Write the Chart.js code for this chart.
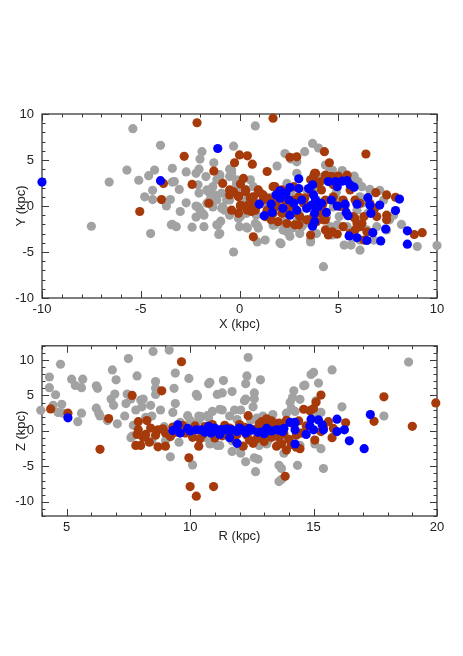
<!DOCTYPE html>
<html>
<head>
<meta charset="utf-8">
<script src="https://cdn.jsdelivr.net/npm/chart.js@4.4.1/dist/chart.umd.min.js"></script>
<style>
  html, body { margin: 0; padding: 0; background: #fff; }
  body { width: 463px; height: 656px; position: relative; overflow: hidden; }
  canvas { position: absolute; left: 0; }
  #top { top: 0; }
  #bottom { top: 330px; }
</style>
</head>
<body>
<canvas id="top" width="463" height="333"></canvas>
<canvas id="bottom" width="463" height="326"></canvas>
<script>
"use strict"

// tick labels
const xTicks = [-10, -5, 0, 5, 10];
const yTicks = [-10, -5, 0, 5, 10];
const rTicks = [5, 10, 15, 20];
const zTicks = [-10, -5, 0, 5, 10];

// ---- top panel: X, Y (kpc) ----
const topGray = [
  [-5.4,8.4],[0.8,8.7],[-4.0,6.6],[-1.9,5.9],[-5.7,3.9],[-6.6,2.6],[-5.1,2.8],[-4.6,3.3],[-4.3,3.9],[-3.4,4.1],
  [-2.7,3.7],[-2.0,5.1],[-1.3,4.7],[-0.3,6.5],[-0.4,3.9],[-4.4,1.7],[-4.8,1.0],[-4.4,0.7],[-3.5,0.7],[-3.7,0.0],
  [-3.0,-0.6],[-3.4,2.6],[-3.05,1.8],[-2.05,1.4],[-1.6,1.6],[-2.1,2.3],[-1.7,3.2],[-7.5,-2.2],[-4.5,-3.0],[-3.4,-2.0],
  [-3.2,-2.25],[-2.4,-2.3],[-1.8,-2.25],[-2.1,-0.1],[-2.2,-1.2],[-1.8,-1.0],[-1.1,-2.1],[-1.0,-3.0],[-0.3,-5.0],[-0.85,-0.1],
  [-0.5,0.65],[0.0,-2.25],[0.4,-2.4],[0.9,-2.1],[0.9,-3.9],[1.3,-3.7],[2.1,-4.1],[2.3,5.7],[1.9,4.35],[2.8,5.2],
  [3.3,5.9],[3.7,6.8],[4.0,6.3],[2.7,-2.4],[2.55,-3.3],[3.6,-3.9],[4.25,-6.6],[5.3,-4.25],[5.65,-4.25],[6.1,-4.8],
  [9.0,-4.4],[10.0,-4.3],[5.2,3.85],[5.8,3.2],[6.6,1.8],[5.05,-1.15],[5.45,-2.25],[6.95,-2.25],[7.45,-2.6],[4.6,3.9],
  [4.25,3.2],[3.9,0.65],[1.7,1.0],[0.7,2.1],[0.35,0.65],[-0.3,1.75],[-0.65,0.65],[-0.9,1.4],[-0.15,2.45],[-1.0,3.2],
  [-0.5,3.2],[-1.35,2.1],[-1.15,2.85],[-1.5,0.65],[-1.35,-0.1],[-1.65,0.3],[0.05,-1.15],[0.35,-0.8],[0.85,-1.0],[2.2,-1.7],
  [1.7,-2.1],[2.4,-2.8],[3.05,-3.0],[3.9,-3.0],[4.6,-2.25],[6.45,-2.6],[6.8,-3.7],[4.75,-0.1],[2.4,2.45],[2.9,3.55],
  [3.4,1.75],[4.75,2.85],[6.1,1.0],[5.95,-0.45],[7.3,0.65],[7.6,-1.5],[-2.2,3.55],[-2.05,4.0],[-1.0,3.4],[-0.5,4.0],
  [-0.4,3.55],[-3.3,2.65],[-2.7,0.35],[-2.2,0.0],[-1.85,-0.85],[-2.0,-0.45],[-1.65,1.75],[-1.5,1.4],[-1.25,1.2],[-1.15,0.65],
  [-0.9,-0.25],[-0.75,-0.45],[-3.45,-2.05],[-1.15,-2.05],[-0.95,-1.65],[-1.05,-3.1],[-0.15,2.85],[0.05,2.1],[0.35,1.75],[0.55,2.85],
  [0.7,1.0],[-0.5,-1.0],[-0.05,-1.35],[0.35,-2.3],[2.6,5.1],[2.9,4.8],[4.35,4.45],[4.7,3.9],[5.2,3.35],[5.8,3.25],
  [6.0,2.65],[6.2,2.1],[0.8,-1.9],[0.95,-2.4],[2.05,-4.0],[2.2,-2.6],[2.9,-1.7],[3.15,-2.25],[3.6,-3.7],[5.7,-3.35],
  [6.1,-3.7],[4.7,-3.15],[4.95,-2.05],[1.8,-2.05],[1.45,-1.15],[5.0,0.65],[5.35,-0.05],[6.2,0.3],[1.2,0.3],[2.0,0.5],
  [3.0,-0.8],[3.8,1.9],[4.4,-1.2],[1.5,-0.5],[2.6,1.5],[3.3,-1.9],[4.9,1.5],[6.5,-0.8],[7.1,1.7],[7.8,-1.0],[8.2,-2.0]
];
const topBrown = [
  [-2.15,9.05],[1.7,9.55],[-2.8,5.4],[0.0,5.55],[0.4,5.45],[-0.25,4.7],[0.65,4.55],[-1.3,3.8],[1.4,3.75],[2.55,5.3],
  [4.3,5.9],[4.55,4.7],[6.4,5.65],[-3.85,2.45],[-3.95,0.7],[-5.05,-0.6],[-2.4,2.35],[-1.55,0.3],[-0.85,2.45],[0.05,2.4],
  [0.2,3.0],[-0.5,1.2],[-0.3,1.55],[-0.05,1.0],[0.05,-0.05],[-0.05,-0.8],[-0.4,-0.45],[0.35,-0.05],[0.7,1.0],[0.3,1.75],
  [1.05,1.4],[1.2,0.65],[1.4,-0.45],[0.8,-0.45],[1.55,-1.15],[1.9,-0.05],[1.7,2.1],[2.2,1.4],[2.3,0.65],[2.4,-0.8],
  [2.55,-0.05],[2.8,-2.05],[3.05,-1.15],[3.4,-1.5],[3.6,-3.15],[0.7,-3.35],[3.75,3.2],[3.85,3.55],[4.1,2.65],[4.15,1.75],
  [4.35,0.65],[4.1,-0.8],[4.35,-1.5],[4.5,-3.15],[4.7,-2.8],[4.95,-3.05],[5.1,-0.05],[5.25,0.65],[4.75,1.0],[4.6,3.2],
  [4.75,2.3],[5.6,1.75],[5.75,-1.15],[5.95,-1.9],[6.1,-2.25],[6.3,-3.7],[6.45,-2.8],[6.3,-1.15],[6.6,0.3],[6.85,-0.25],
  [6.95,-1.15],[6.9,1.45],[7.45,1.2],[7.45,-1.0],[7.45,-1.5],[7.9,0.95],[8.85,-3.1],[9.25,-2.9],[5.25,-2.25],[5.6,-3.0],
  [2.75,0.65],[2.9,-0.8],[3.25,0.3],[1.7,-0.8],[2.15,-0.8],[3.75,-1.15],[3.9,-0.45],[3.65,1.4],[2.75,2.1],[-0.5,1.75],
  [-0.05,1.1],[0.3,1.55],[0.55,0.85],[0.4,-0.45],[0.6,-0.6],[0.05,0.1],[0.45,0.1],[0.85,-0.05],[2.9,5.35],[4.7,3.2],
  [4.35,3.35],[5.0,3.25],[5.45,3.35],[3.8,3.55],[3.6,2.85],[3.9,2.45],[0.95,1.75],[1.2,1.2],[1.45,0.85],[1.7,0.3],
  [1.8,2.1],[2.15,1.75],[0.8,0.3],[1.3,-1.15],[1.6,-1.5],[1.95,-1.7],[2.4,-1.9],[3.0,-2.05],[3.5,-1.5],[3.9,-1.7],
  [4.25,-1.5],[4.35,-2.6],[5.85,-2.6],[6.2,-1.9],[5.85,-1.35],[3.0,1.0],[3.3,0.85],[4.2,0.1],[4.7,0.65],[5.85,0.65],[6.1,0.3]
];
const topBlue = [
  [-10.0,2.6],[-4.0,2.75],[-1.1,6.25],[1.0,0.2],[1.25,-1.05],[1.6,0.2],[1.65,-0.7],[1.85,1.2],[2.05,1.65],[2.05,0.85],
  [2.35,1.4],[2.2,-0.25],[2.55,2.0],[2.5,0.65],[2.55,-1.0],[2.75,0.3],[2.9,-0.45],[3.0,2.95],[3.0,1.9],[3.15,0.65],
  [3.4,-0.25],[3.5,1.9],[3.7,2.3],[3.75,1.2],[3.85,0.65],[3.65,0.1],[3.8,-0.8],[3.8,-1.7],[3.7,-2.2],[4.0,-0.05],
  [4.15,0.3],[4.5,2.65],[4.85,2.65],[4.95,2.1],[4.65,0.65],[4.95,0.0],[5.2,2.7],[5.45,2.75],[5.6,2.3],[5.8,2.05],
  [5.35,0.2],[5.4,-0.7],[5.5,-1.05],[5.95,0.2],[5.55,-3.25],[5.95,-3.45],[6.45,-3.75],[6.5,0.9],[6.6,0.1],[6.65,-0.8],
  [6.75,-2.9],[7.1,0.1],[7.15,-3.8],[7.4,-2.5],[7.9,-0.5],[8.1,0.75],[8.5,-2.7],[8.5,-4.15],[4.4,-0.7]
];

// ---- bottom panel: R, Z (kpc) ----
const botGray = [
  [3.95,2.9],[4.3,7.6],[4.3,6.1],[4.55,5.1],[4.75,9.4],[4.45,3.6],[4.8,3.75],[4.65,2.6],[4.85,2.5],[5.2,7.3],
  [5.35,6.4],[5.6,6.1],[5.65,7.3],[5.45,1.3],[5.6,2.5],[6.2,6.35],[6.25,6.0],[6.2,3.2],[6.3,2.5],[6.35,2.1],
  [6.85,8.6],[7.0,7.2],[6.8,4.5],[6.9,3.6],[7.05,1.0],[6.65,1.45],[6.95,5.2],[7.5,10.2],[7.45,5.2],[7.4,3.85],
  [7.35,2.1],[7.6,4.5],[7.8,2.95],[7.85,7.75],[8.0,4.35],[8.05,3.4],[7.6,-0.95],[7.7,0.8],[8.1,4.5],[8.4,3.6],
  [8.45,2.1],[8.5,11.2],[8.6,6.95],[8.6,6.0],[8.6,5.15],[8.8,2.95],[8.95,0.6],[9.15,11.4],[9.2,-3.65],[9.35,6.0],
  [9.4,8.15],[9.4,3.85],[9.3,2.6],[9.9,2.15],[9.95,7.4],[10.1,-4.8],[10.25,5.15],[10.3,4.9],[10.35,2.1],[10.45,2.0],
  [10.7,2.15],[10.8,6.85],[10.8,-1.85],[11.1,5.15],[11.2,3.05],[11.35,7.1],[11.3,5.35],[11.6,2.1],[11.7,5.55],[11.8,2.95],
  [11.7,-2.9],[12.0,-2.25],[12.05,-3.15],[12.25,6.65],[12.25,4.5],[12.3,7.75],[12.35,10.35],[12.25,-4.35],[12.45,1.45],[12.55,3.4],
  [12.6,5.35],[12.65,-5.75],[12.85,7.2],[12.75,-4.0],[12.95,2.1],[13.15,-1.4],[13.35,2.3],[13.6,-4.85],[13.6,-7.15],[13.7,-5.3],
  [13.8,-3.15],[13.9,2.5],[14.05,4.05],[14.15,4.7],[14.2,5.65],[14.25,2.75],[14.35,-4.85],[14.6,6.35],[15.0,8.25],[15.2,6.75],
  [15.1,4.25],[15.05,2.6],[15.3,2.6],[15.4,-5.3],[15.75,8.6],[15.05,-1.85],[15.3,-2.5],[16.15,3.4],[17.85,2.1],[18.85,9.7],
  [8.45,-1.4],[9.0,-1.4],[9.55,-1.6],[10.65,-0.95],[11.2,-2.05],[11.7,-1.4],[12.8,-2.05],[13.1,-1.85],[13.75,-1.4],[14.45,-2.05],
  [11.1,-2.05],[10.35,1.45],[10.75,1.85],[10.75,6.65],[10.9,2.75],[11.3,2.95],[12.05,2.95],[12.6,4.55],[12.2,4.25],[14.1,3.15],
  [14.45,4.45],[14.65,6.45],[14.9,7.95],[12.6,-3.8],[12.95,-1.6],[13.7,-6.85],[7.65,-0.75],[8.2,1.9],[9.6,1.2],[10.0,1.5],
  [11.9,1.6],[12.7,1.8],[13.4,1.2],[13.6,-1.0]
];
const botBrown = [
  [4.35,3.1],[5.05,2.5],[6.35,-2.6],[6.7,1.75],[7.65,5.0],[7.9,1.3],[7.85,-0.5],[7.8,-2.05],[8.0,-2.05],[7.9,0.15],
  [8.2,-0.5],[8.25,1.45],[8.35,-1.6],[8.7,0.15],[8.7,-2.25],[8.85,5.65],[9.0,-2.15],[9.0,-0.3],[9.3,0.55],[9.65,9.75],
  [9.95,-3.8],[10.0,-7.85],[10.25,-9.2],[10.35,-2.15],[10.95,-7.85],[12.35,2.15],[12.15,-2.15],[12.55,-1.75],[13.5,-2.15],[13.7,-1.85],
  [13.9,-2.7],[13.85,-6.4],[14.45,-2.5],[14.6,3.05],[14.85,2.85],[15.0,3.15],[15.1,4.05],[15.3,5.05],[15.05,-1.3],[15.3,-0.1],
  [15.75,-0.95],[15.8,0.35],[16.3,1.15],[17.85,4.8],[17.45,1.35],[19.0,0.65],[19.95,3.95],
  [9.5,0.5],[9.8,-0.3],[10.2,0.7],[10.5,-0.5],[10.9,0.9],[11.3,-0.7],[11.6,0.4],[12.0,0.9],[12.3,-0.6],[12.6,0.2],
  [12.9,1.3],[13.1,1.7],[13.3,-0.9],[13.5,0.4],[13.9,1.5],[14.2,0.9],[14.5,-0.3],[8.6,-0.6],[9.2,-0.8],[10.1,-0.9],
  [10.8,0.1],[11.1,-0.2],[11.9,-0.5],[12.7,-1.1],[13.2,0.8],[13.8,-0.4],[14.0,-1.2],[14.4,1.4],[8.9,0.3],[9.4,-0.2],
  [10.6,0.6],[11.4,0.8],[12.2,0.5],[12.9,-0.8],[13.6,1.1],[14.3,-0.6],[8.4,0.4],[8.1,-0.9],[9.7,0.8],[10.4,-1.1],
  [11.0,-1.0],[11.8,-1.2],[12.4,-1.3],[13.0,-1.5],[12.8,1.0],[13.3,1.4],[13.6,-0.9],[14.1,-1.9],[14.3,-2.3],[14.7,0.7],
  [15.4,0.6],[15.6,1.3],[10.0,0.2],[11.5,-0.5]
];
const botBlue = [
  [5.05,1.85],[9.3,0.05],[9.5,0.85],[9.6,-0.3],[9.9,0.35],[10.0,0.0],[10.25,0.15],[10.45,0.15],[10.75,0.65],[10.85,-0.3],
  [11.05,0.15],[11.2,-0.5],[11.4,0.15],[11.6,-0.95],[11.7,0.15],[11.9,-0.1],[11.9,-1.75],[12.1,0.15],[12.25,-0.3],[12.4,0.35],
  [12.75,-0.2],[12.95,-0.1],[13.1,0.35],[13.3,0.0],[13.5,0.15],[13.75,-0.1],[13.8,0.35],[14.05,1.2],[14.25,1.2],[14.25,0.15],
  [14.25,-1.85],[14.7,-0.5],[14.85,0.7],[14.9,1.65],[15.0,0.15],[15.2,1.55],[15.35,0.85],[15.4,0.15],[15.95,1.65],[15.95,-0.1],
  [16.25,0.15],[16.45,-1.4],[17.05,-2.5],[17.3,2.3],[10.6,-0.2],[11.0,0.4],[11.25,0.2],[10.9,-0.1],[11.5,0.3],[12.0,0.4],
  [12.5,0.1],[13.0,-0.4],[13.6,0.1]
];

const gray = "#a2a2a2";
const brown = "#a63a0a";
const blue = "#0000ff";

// inward major/minor ticks on all four sides plus the box
const frameTicks = {
  id: "frameTicks",
  beforeDatasetsDraw(chart) {
    const ctx = chart.ctx;
    const a = chart.chartArea;
    const xs = chart.scales.x;
    const ys = chart.scales.y;
    ctx.save();
    ctx.strokeStyle = "#3a3a3a";
    ctx.lineWidth = 1;
    ctx.beginPath();
    for (let v = Math.ceil(xs.min); v <= xs.max; v++) {
      const len = v % 5 === 0 ? 7 : 3.5;
      const p = Math.round(xs.getPixelForValue(v)) + 0.5;
      ctx.moveTo(p, a.bottom); ctx.lineTo(p, a.bottom - len);
      ctx.moveTo(p, a.top); ctx.lineTo(p, a.top + len);
    }
    for (let v = Math.ceil(ys.min); v <= ys.max; v++) {
      const len = v % 5 === 0 ? 7 : 3.5;
      const p = Math.round(ys.getPixelForValue(v)) + 0.5;
      ctx.moveTo(a.left, p); ctx.lineTo(a.left + len, p);
      ctx.moveTo(a.right, p); ctx.lineTo(a.right - len, p);
    }
    ctx.stroke();
    ctx.lineWidth = 1.3;
    ctx.strokeRect(a.left, a.top, a.right - a.left, a.bottom - a.top);
    ctx.restore();
  }
};

const labelFont = { family: "'Liberation Sans', Arial, sans-serif", size: 13 };

function setTicks(values) {
  return scale => { scale.ticks = values.map(v => ({ value: v })); };
}

function makeSet(pts, color) {
  return {
    data: pts.map(p => ({ x: p[0], y: p[1] })),
    backgroundColor: color,
    borderWidth: 0,
    pointRadius: 4.6,
    pointHoverRadius: 4.6,
    clip: false
  };
}

function makePanel(id, blueP, brownP, grayP, xr, yr, xt, yt, xTitle, yTitle, pad, xH, xTitlePad) {
  new Chart(document.getElementById(id), {
    type: "scatter",
    data: {
      // first dataset is drawn on top
      datasets: [makeSet(blueP, blue), makeSet(brownP, brown), makeSet(grayP, gray)]
    },
    options: {
      responsive: false,
      animation: false,
      events: [],
      layout: { padding: pad },
      plugins: { legend: { display: false }, tooltip: { enabled: false } },
      scales: {
        x: {
          type: "linear", min: xr[0], max: xr[1],
          grid: { display: false, drawTicks: false },
          border: { display: false },
          afterBuildTicks: setTicks(xt),
          afterFit: s => { s.height = xH; },
          ticks: { maxRotation: 0, padding: 4, color: "#222", font: labelFont },
          title: { display: true, text: xTitle, color: "#222", font: labelFont, padding: { top: 0, bottom: xTitlePad } }
        },
        y: {
          type: "linear", min: yr[0], max: yr[1],
          grid: { display: false, drawTicks: false },
          border: { display: false },
          afterBuildTicks: setTicks(yt),
          afterFit: s => { s.width = 42; },
          ticks: { padding: 8, color: "#222", font: labelFont },
          title: { display: true, text: yTitle, color: "#222", font: labelFont, padding: { top: 14, bottom: 0 } }
        }
      }
    },
    plugins: [frameTicks]
  });
}

makePanel("top", topBlue, topBrown, topGray, [-10, 10], [-10, 10], xTicks, yTicks, "X (kpc)", "Y (kpc)",
  { top: 114, right: 26, left: 0, bottom: 0 }, 35, 1);
makePanel("bottom", botBlue, botBrown, botGray, [4, 20], [-12, 12], rTicks, zTicks, "R (kpc)", "Z (kpc)",
  { top: 2, right: 26, left: 0, bottom: 112 }, 28, 0);
</script>
</body>
</html>
